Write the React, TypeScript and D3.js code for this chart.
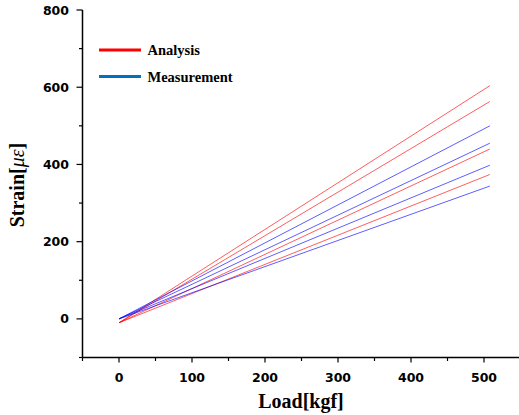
import React from "react";
import * as d3 from "d3";

const loads = [0, 508];
const analysisStart = [-10, -10, -10, -10];
const analysisEnd = [604, 563, 440, 374];
const measurementStart = [0, 0, 0, 0];
const measurementEnd = [500, 455, 398, 344];
const xMajorTicks = [0, 100, 200, 300, 400, 500];
const xMinorTicks = [-50, 50, 150, 250, 350, 450, 550];
const yMajorTicks = [0, 200, 400, 600, 800];
const yMinorTicks = [-100, 100, 300, 500, 700];
const legendItems = [
  { label: "Analysis", color: "#ff0000" },
  { label: "Measurement", color: "#0070c0" },
];

export default function App() {
  const W = 519, H = 415;
  const x = d3.scaleLinear().domain([-50, 550]).range([82.5, 520.5]);
  const y = d3.scaleLinear().domain([-100, 800]).range([357.5, 10]);
  const line = d3.line<[number, number]>().x(d => x(d[0])).y(d => y(d[1]));
  const tickFont = "'DejaVu Sans', sans-serif";
  const serif = "'Liberation Serif', 'Times New Roman', serif";

  const series = [
    ...analysisEnd.map((e, i) => ({ pts: [[loads[0], analysisStart[i]], [loads[1], e]] as [number, number][], color: "#ff0000" })),
    ...measurementEnd.map((e, i) => ({ pts: [[loads[0], measurementStart[i]], [loads[1], e]] as [number, number][], color: "#0000ff" })),
  ];

  return (
    <svg width={W} height={H} style={{ position: "absolute", left: 0, top: 0, background: "#fff" }}>
      {series.map((s, i) => (
        <path key={i} d={line(s.pts) || ""} fill="none" stroke={s.color} strokeWidth={0.8} strokeOpacity={0.8} />
      ))}
      <line x1={x(-50)} x2={x(-50)} y1={y(-100)} y2={y(800)} stroke="#000" strokeWidth={1.5} />
      <line x1={x(-50)} x2={x(550)} y1={y(-100)} y2={y(-100)} stroke="#000" strokeWidth={1.5} />
      {yMajorTicks.map(t => (
        <g key={"ym" + t}>
          <line x1={x(-50) - 6} x2={x(-50)} y1={y(t)} y2={y(t)} stroke="#000" strokeWidth={1.2} />
          <text x={69} y={y(t)} dy="0.36em" textAnchor="end" fontFamily={tickFont} fontWeight="bold" fontSize={12.5}>{t}</text>
        </g>
      ))}
      {yMinorTicks.map(t => (
        <line key={"yn" + t} x1={x(-50) - 3.5} x2={x(-50)} y1={y(t)} y2={y(t)} stroke="#000" strokeWidth={1.2} />
      ))}
      {xMajorTicks.map(t => (
        <g key={"xm" + t}>
          <line x1={x(t)} x2={x(t)} y1={y(-100)} y2={y(-100) + 5} stroke="#000" strokeWidth={1.2} />
          <text x={x(t)} y={382} textAnchor="middle" fontFamily={tickFont} fontWeight="bold" fontSize={12.5}>{t}</text>
        </g>
      ))}
      {xMinorTicks.map(t => (
        <line key={"xn" + t} x1={x(t)} x2={x(t)} y1={y(-100)} y2={y(-100) + 3.5} stroke="#000" strokeWidth={1.2} />
      ))}
      <text x={301} y={408} textAnchor="middle" fontFamily={serif} fontWeight="bold" fontSize={20}>Load[kgf]</text>
      <text transform="translate(24,185) rotate(-90)" textAnchor="middle" fontFamily={serif} fontWeight="bold" fontSize={20}>
        Strain[<tspan fontStyle="italic" fontWeight="normal">με</tspan>]
      </text>
      {legendItems.map((it, i) => (
        <g key={it.label}>
          <line x1={99} x2={141} y1={50 + i * 26.5} y2={50 + i * 26.5} stroke={it.color} strokeWidth={3} />
          <text x={147.5} y={55 + i * 26.5} fontFamily={serif} fontWeight="bold" fontSize={14.5}>{it.label}</text>
        </g>
      ))}
    </svg>
  );
}
